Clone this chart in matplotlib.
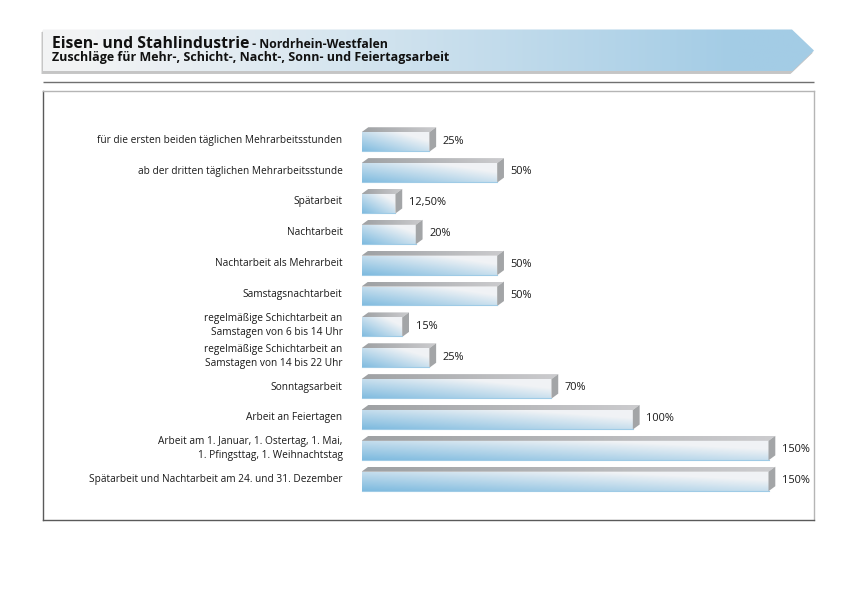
import numpy as np
import matplotlib
matplotlib.use("Agg")
import matplotlib.pyplot as plt
from matplotlib.patches import Polygon

categories = [
    "für die ersten beiden täglichen Mehrarbeitsstunden",
    "ab der dritten täglichen Mehrarbeitsstunde",
    "Spätarbeit",
    "Nachtarbeit",
    "Nachtarbeit als Mehrarbeit",
    "Samstagsnachtarbeit",
    "regelmäßige Schichtarbeit an\nSamstagen von 6 bis 14 Uhr",
    "regelmäßige Schichtarbeit an\nSamstagen von 14 bis 22 Uhr",
    "Sonntagsarbeit",
    "Arbeit an Feiertagen",
    "Arbeit am 1. Januar, 1. Ostertag, 1. Mai,\n1. Pfingsttag, 1. Weihnachtstag",
    "Spätarbeit und Nachtarbeit am 24. und 31. Dezember",
]
values = [25, 50, 12.5, 20, 50, 50, 15, 25, 70, 100, 150, 150]
value_labels = ["25%", "50%", "12,50%", "20%", "50%", "50%", "15%", "25%",
                "70%", "100%", "150%", "150%"]
title_main = "Eisen- und Stahlindustrie"
title_sub = " - Nordrhein-Westfalen"
subtitle = "Zuschläge für Mehr-, Schicht-, Nacht-, Sonn- und Feiertagsarbeit"

W, H = 848, 600
fig = plt.figure(figsize=(W / 100, H / 100), dpi=100)
fig.patch.set_facecolor("white")

# ---------- decoration layer in pixel coordinates ----------
bg = fig.add_axes([0, 0, 1, 1], zorder=0)
bg.set_xlim(0, W)
bg.set_ylim(H, 0)
bg.axis("off")

bx0, bx1, btip, by0, by1 = 43, 792, 814, 29.5, 71.5
ymid = (by0 + by1) / 2
banner = [(bx0, by0), (bx1, by0), (btip, ymid), (bx1, by1), (bx0, by1)]
shadow = [(x - 1.5, y + 2.5) for x, y in banner]
bg.add_patch(Polygon(shadow, closed=True, facecolor="#9a9a9a", edgecolor="none", alpha=0.55))
bg.add_patch(Polygon([(x - 0.5, y + 1.2) for x, y in banner], closed=True,
                     facecolor="#c4c4c4", edgecolor="none", alpha=0.6))
gx = np.linspace(0, 1, 400)
c0 = np.array([0.95, 0.955, 0.96])
c1 = np.array([0.64, 0.80, 0.90])
t = np.clip((gx - 0.05) / 0.85, 0, 1) ** 1.1
grad = (c0[None, :] * (1 - t[:, None]) + c1[None, :] * t[:, None])[None, :, :]
bpatch = Polygon(banner, closed=True, facecolor="none", edgecolor="none")
bg.add_patch(bpatch)
im = bg.imshow(grad, extent=(bx0, btip, by1, by0), aspect="auto", interpolation="bilinear", zorder=1)
im.set_clip_path(bpatch)

title_font = ["Open Sans", "DejaVu Sans"]
t1 = bg.text(51.5, 48.0, title_main, fontsize=11.3, fontweight="bold",
             family=title_font, color="#111111",
             va="baseline", ha="left", zorder=3)
fig.canvas.draw()
bb = t1.get_window_extent()
x_after = bb.x1
bg.text(x_after, 48.0, title_sub, fontsize=8.8, fontweight="bold",
        family=title_font, color="#111111",
        va="baseline", ha="left", zorder=3)
bg.text(51.5, 61.0, subtitle, fontsize=9.0, fontweight="bold",
        family=title_font, color="#111111",
        va="baseline", ha="left", zorder=3)

bg.plot([43, 814], [81.7, 81.7], color="#707070", lw=1.0, solid_capstyle="butt")

# ---------- main chart axes ----------
fx0, fx1, fy0, fy1 = 43.3, 814, 90.7, 520
ax = fig.add_axes([fx0 / W, 1 - fy1 / H, (fx1 - fx0) / W, (fy1 - fy0) / H], zorder=2)
ax.set_facecolor("none")
K = 407 / 150.0          # px per percent
x_zero = 361.5
row0, rstep = 142.0, 30.86
xlim = ((fx0 - x_zero) / K, (fx1 - x_zero) / K)
ylim = ((fy1 - row0) / rstep, (fy0 - row0) / rstep)

h = 19.5 / rstep
dx = 6.8 / K
dy = 5.0 / rstep

blue = np.array([0.47, 0.72, 0.87])
light = np.array([0.945, 0.952, 0.962])
nx, ny = 120, 24
xn = np.linspace(0, 1, nx)[None, :]
yr = np.linspace(0, 1, ny)[:, None]
tl = np.clip(0.62 * xn + 0.6 * (1 - yr) + 0.05, 0, 1)
front_grad = blue[None, None, :] * (1 - tl[..., None]) + light[None, None, :] * tl[..., None]

g0 = np.array([0.62, 0.63, 0.64])
g1 = np.array([0.80, 0.80, 0.81])
tg = np.linspace(0, 1, 120)[None, :]
top_grad = g0[None, None, :] * (1 - tg[..., None]) + g1[None, None, :] * tg[..., None]

lab_font = ["Open Sans", "DejaVu Sans"]
for i, (cat, v, vl) in enumerate(zip(categories, values, value_labels)):
    ytop, ybot = i - h / 2, i + h / 2
    fp = Polygon([(0, ytop), (v, ytop), (v, ybot), (0, ybot)], closed=True,
                 facecolor="none", edgecolor="none")
    ax.add_patch(fp)
    imf = ax.imshow(front_grad, extent=(0, v, ybot, ytop), aspect="auto",
                    interpolation="bilinear", zorder=2)
    imf.set_clip_path(fp)
    ax.plot([0, v], [ybot - 0.02, ybot - 0.02], color="#9fcbe6", lw=0.8, zorder=3)
    tp = Polygon([(0, ytop), (v, ytop), (v + dx, ytop - dy), (dx, ytop - dy)], closed=True,
                 facecolor="none", edgecolor="none")
    ax.add_patch(tp)
    imt = ax.imshow(top_grad, extent=(0, v + dx, ytop, ytop - dy), aspect="auto",
                    interpolation="bilinear", zorder=2)
    imt.set_clip_path(tp)
    ax.add_patch(Polygon([(v, ytop), (v + dx, ytop - dy), (v + dx, ybot - dy), (v, ybot)],
                         closed=True, facecolor="#a3a5a7", edgecolor="none", zorder=2))
    ax.text(v + 13.5 / K, i - 0.03, vl, fontsize=7.9, family=lab_font, color="#1a1a1a",
            ha="left", va="center", zorder=4)
    ax.text(-7.0, i - 0.06, cat, fontsize=7.3, family=lab_font, color="#1a1a1a",
            ha="right", va="center", multialignment="right", linespacing=1.4, zorder=4)

ax.set_xlim(*xlim)
ax.set_ylim(*ylim)
ax.set_xticks([])
ax.set_yticks([])
for s in ["left", "bottom"]:
    ax.spines[s].set_color("#5a5a5a")
    ax.spines[s].set_linewidth(1.0)
for s in ["top", "right"]:
    ax.spines[s].set_color("#b5b5b5")
    ax.spines[s].set_linewidth(1.0)

fig.savefig("out.png", dpi=100, facecolor="white")
